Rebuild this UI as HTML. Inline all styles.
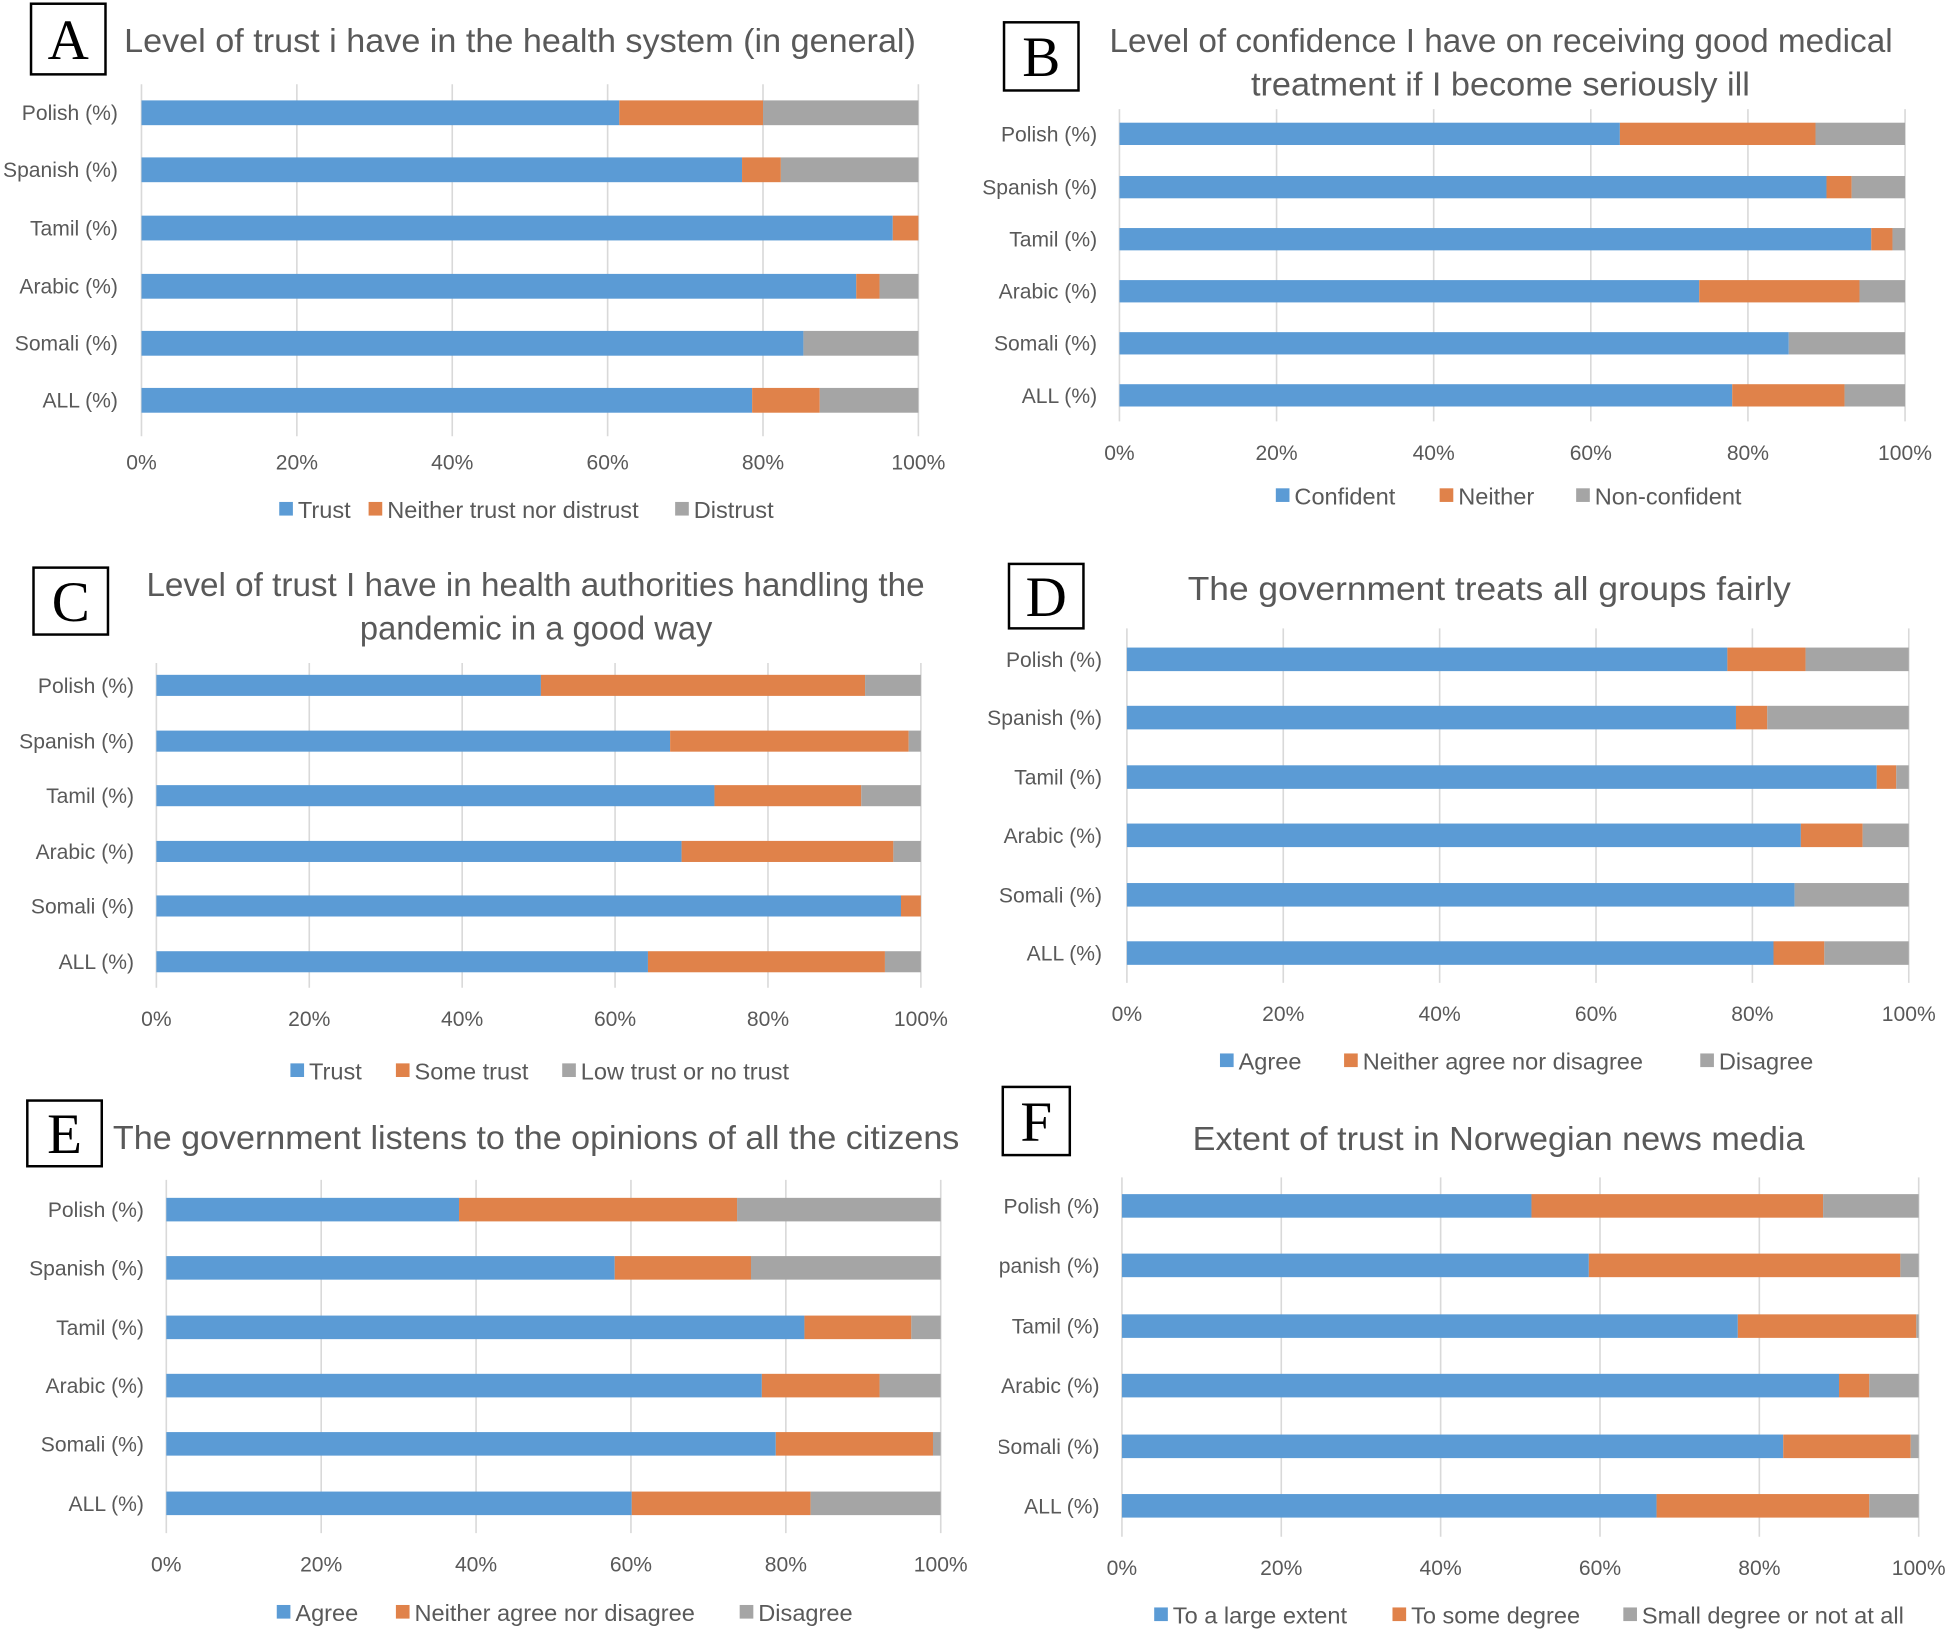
<!DOCTYPE html>
<html><head><meta charset="utf-8"><style>
html,body{margin:0;padding:0;background:#fff;}
svg{display:block;}
text{font-family:"Liberation Sans Narrow","Liberation Sans",sans-serif;fill:#595959;}
.box{font-family:"Liberation Serif",serif;fill:#000;}
</style></head><body>
<svg id="fig" width="1946" height="1631" viewBox="0 0 1568 1316" preserveAspectRatio="none" xmlns="http://www.w3.org/2000/svg">
<defs><clipPath id="clipF"><rect x="805" y="940" width="800" height="300"/></clipPath></defs>
</svg>
<script>
const categories = ["Polish  (%)","Spanish  (%)","Tamil  (%)","Arabic (%)","Somali (%)","ALL (%)"];
const tickLabels = ["0%","20%","40%","60%","80%","100%"];
const tickValues = [0,20,40,60,80,100];
// Panel A
const aFirst = [61.5,77.3,96.7,92,85.2,78.6];
const aSecond = [18.5,5,3.3,3,0,8.7];
const aThird = [20,17.7,0,5,14.8,12.7];
const aLegend = ["Trust","Neither trust nor distrust","Distrust"];
// Panel B
const bFirst = [63.7,90,95.7,73.8,85.2,78];
const bSecond = [24.9,3.2,2.7,20.4,0,14.3];
const bThird = [11.4,6.8,1.6,5.8,14.8,7.7];
const bLegend = ["Confident","Neither","Non-confident"];
// Panel C
const cFirst = [50.3,67.2,73,68.7,97.4,64.3];
const cSecond = [42.4,31.2,19.2,27.7,2.6,31];
const cThird = [7.3,1.6,7.8,3.6,0,4.7];
const cLegend = ["Trust","Some trust","Low trust or no trust"];
// Panel D
const dFirst = [76.8,77.9,95.9,86.2,85.4,82.7];
const dSecond = [10,4,2.5,7.9,0,6.5];
const dThird = [13.2,18.1,1.6,5.9,14.6,10.8];
const dLegend = ["Agree","Neither agree nor disagree","Disagree"];
// Panel E
const eFirst = [37.8,57.9,82.4,76.9,78.7,60.1];
const eSecond = [35.9,17.6,13.8,15.2,20.3,23.1];
const eThird = [26.3,24.5,3.8,7.9,1,16.8];
const eLegend = ["Agree","Neither agree nor disagree","Disagree"];
// Panel F
const fFirst = [51.4,58.6,77.3,90,83,67.1];
const fSecond = [36.6,39.1,22.4,3.8,16,26.7];
const fThird = [12,2.3,0.3,6.2,1,6.2];
const fLegend = ["To a large extent","To some degree","Small degree or not at all"];

const colors = ["#5b9bd5","#e0824a","#a5a5a5"];
const NS = "http://www.w3.org/2000/svg";
const svg = document.getElementById("fig");
function el(tag, attrs, parent){const e=document.createElementNS(NS,tag);for(const k in attrs)e.setAttribute(k,attrs[k]);(parent||svg).appendChild(e);return e;}

const panels = [
 {id:"a",letter:"A",box:[25,3,60,57],titles:[["Level of trust i have in the health system (in general)",100,42,638,"start"]],x0:114,x1:740,rows:[91,137,184,231,277,323],bh:20,gTop:68,gBot:352,tickY:379,legY:411,legX:[225,297,544],first:aFirst,second:aSecond,third:aThird,legend:aLegend,labX:95},
 {id:"b",letter:"B",box:[809,18,60,55],titles:[["Level of confidence I have on receiving good medical",894,42,631,"start"],["treatment if I become seriously ill",1008,77,402,"start"]],x0:902,x1:1535,rows:[108,151,193,235,277,319],bh:18,gTop:88,gBot:340,tickY:371,legY:400,legX:[1028,1160,1270],first:bFirst,second:bSecond,third:bThird,legend:bLegend,labX:884},
 {id:"c",letter:"C",box:[27,458,60,54],titles:[["Level of trust I have in health authorities handling the",118,481,627,"start"],["pandemic in a good way",290,516,284,"start"]],x0:126,x1:742,rows:[553,598,642,687,731,776],bh:17,gTop:535,gBot:797,tickY:828,legY:864,legX:[234,319,453],first:cFirst,second:cSecond,third:cThird,legend:cLegend,labX:108},
 {id:"d",letter:"D",box:[813,455,60,52],titles:[["The government treats all groups fairly",957,484,486,"start"]],x0:908,x1:1538,rows:[532,579,627,674,722,769],bh:19,gTop:507,gBot:793,tickY:824,legY:856,legX:[983,1083,1370],first:dFirst,second:dSecond,third:dThird,legend:dLegend,labX:888},
 {id:"e",letter:"E",box:[22,888,60,53],titles:[["The government listens to the opinions of all the citizens",91,927,682,"start"]],x0:134,x1:758,rows:[976,1023,1071,1118,1165,1213],bh:19,gTop:952,gBot:1237,tickY:1268,legY:1301,legX:[223,319,596],first:eFirst,second:eSecond,third:eThird,legend:eLegend,labX:116},
 {id:"f",letter:"F",box:[808,877,54,55],titles:[["Extent of trust in Norwegian news media",961,928,493,"start"]],x0:904,x1:1546,rows:[973,1021,1070,1118,1167,1215],bh:19,gTop:950,gBot:1240,tickY:1271,legY:1303,legX:[930,1122,1308],first:fFirst,second:fSecond,third:fThird,legend:fLegend,labX:886,clip:true}
];

panels.forEach(p=>{
  const g = el("g",{});
  
  
  const xs = v => p.x0 + (p.x1-p.x0)*v/100;
  // letter box
  const bx = el("rect",{x:p.box[0],y:p.box[1],width:p.box[2],height:p.box[3],fill:"#fff",stroke:"#000","stroke-width":2},g);
  
  
  const lt = el("text",{x:p.box[0]+p.box[2]/2,y:p.box[1]+p.box[3]/2+16,"text-anchor":"middle","font-size":46,class:"box"},g);
  lt.textContent = p.letter;
  
  
  // titles
  p.titles.forEach((t,i)=>{
    const tt = el("text",{x:t[1],y:t[2],"font-size":27,textLength:t[3],lengthAdjust:"spacingAndGlyphs"},g);
    tt.textContent = t[0];
    
    
  });
  // gridlines and ticks
  tickValues.forEach((v,i)=>{
    const gl = el("line",{x1:xs(v),x2:xs(v),y1:p.gTop,y2:p.gBot,stroke:"#d9d9d9","stroke-width":1.3},g);
    
    
    const tl = el("text",{x:xs(v),y:p.tickY,"text-anchor":"middle","font-size":17},g);
    tl.textContent = tickLabels[i];
    
    
  });
  // bars
  const series=[p.first,p.second,p.third];
  categories.forEach((c,ri)=>{
    let acc=0;
    series.forEach((s,si)=>{
      const v=s[ri];
      if(v>0){
        const r = el("rect",{x:xs(acc),y:p.rows[ri]-p.bh/2,width:xs(acc+v)-xs(acc),height:p.bh,fill:colors[si]},g);
        
        
      }
      acc+=v;
    });
    const cl = el("text",{x:p.labX,y:p.rows[ri]+6,"text-anchor":"end","font-size":17},g);
    if(p.clip) cl.setAttribute("clip-path","url(#clipF)");
    cl.textContent = c;
    
    
  });
  // legend
  p.legend.forEach((name,i)=>{
    const sq = el("rect",{x:p.legX[i],y:p.legY-6,width:11,height:11,fill:colors[i]},g);
    
    
    const lt2 = el("text",{x:p.legX[i]+15,y:p.legY+7,"font-size":19},g);
    lt2.textContent = name;
    
    
  });
});
</script>
</body></html>
